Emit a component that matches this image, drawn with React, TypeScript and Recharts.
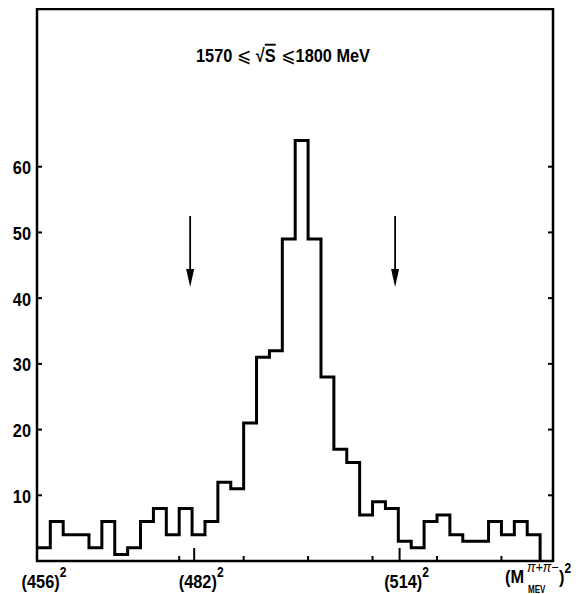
import React from 'react';
import { ComposedChart, Line, XAxis, YAxis, ReferenceArea, ReferenceLine, Customized } from 'recharts';

// ---- data ----
const BIN_START = 208000; // MeV^2
const BIN_WIDTH = 2000; // MeV^2
const COUNTS = [2, 6, 4, 4, 2, 6, 1, 2, 6, 8, 4, 8, 4, 6, 12, 11, 21, 31, 32, 49, 64, 49, 28, 17, 15, 7, 9, 8, 3, 2, 6, 7, 4, 3, 3, 6, 4, 6, 4];
const X_DOMAIN = [207936, 288000];
const Y_DOMAIN = [0, 84];
const Y_TICKS = [10, 20, 30, 40, 50, 60];
const X_MAJOR_VALUES = [207936, 232324, 264196];
const X_MAJOR_LABELS = ['456', '482', '514'];
const X_MINOR_VALUES = [230000, 240000, 250000, 260000, 270000, 280000];
const ARROW_X = [231700, 263500];
const ARROW_Y = [52.5, 41.7];
const TITLE_PARTS = ['1570 ', '\u2A7D', ' \u221A', 'S', ' \u2A7D', '1800 MeV'];

const histData = [
  ...COUNTS.map((c, i) => ({ x: BIN_START + i * BIN_WIDTH, y: c })),
  { x: BIN_START + COUNTS.length * BIN_WIDTH, y: 0 },
];
const xTicks = [...X_MAJOR_VALUES, ...X_MINOR_VALUES].sort((a, b) => a - b);

const FONT: React.CSSProperties = {
  fontFamily: '"Liberation Sans", Arial, sans-serif',
  fontWeight: 'bold',
  fontSize: 19,
};
const SX = 0.86;

const NText = (props: any) => {
  const { x, y, anchor = 'start', style, sx = SX, children } = props;
  return (
    <text
      transform={`translate(${x},${y}) scale(${sx},1)`}
      x={0}
      y={0}
      textAnchor={anchor}
      fill="#000"
      style={{ ...FONT, ...style }}
    >
      {children}
    </text>
  );
};

const LeftTick = (props: any) => {
  const { x, y, payload } = props;
  return (
    <g>
      <line x1={x} y1={y} x2={x + 5} y2={y} stroke="#000" strokeWidth={2} />
      <NText x={x - 6} y={y + 7.5} anchor="end">{payload.value}</NText>
    </g>
  );
};

const RightTick = (props: any) => {
  const { x, y } = props;
  return <line x1={x - 5} y1={y} x2={x} y2={y} stroke="#000" strokeWidth={2} />;
};

const BottomTick = (props: any) => {
  const { x, y, payload } = props;
  const idx = X_MAJOR_VALUES.indexOf(payload.value);
  const major = idx >= 0;
  return (
    <g>
      <line x1={x} y1={y} x2={x} y2={y - (major ? 13 : 5)} stroke="#000" strokeWidth={2} />
      {major && (
        <NText x={x + 7} y={y + 27} anchor="middle">
          ({X_MAJOR_LABELS[idx]})
          <tspan dy={-11} style={{ fontSize: 14 }}>2</tspan>
        </NText>
      )}
    </g>
  );
};

const Arrow = (p: any) => {
  const { x1, y1, x2, y2 } = p;
  return (
    <g>
      <line x1={x1} y1={y1} x2={x2} y2={y2 - 14} stroke="#000" strokeWidth={1.8} />
      <polygon points={`${x2 - 4},${y2 - 18} ${x2 + 4},${y2 - 18} ${x2},${y2}`} fill="#000" />
    </g>
  );
};

const Texts = () => (
  <g>
    <NText x={275} y={54} anchor="middle">
      {TITLE_PARTS[0]}
      <tspan style={{ fontFamily: '"DejaVu Sans", sans-serif', fontWeight: 'normal', fontSize: 20 }}>{TITLE_PARTS[1]}</tspan>
      <tspan>{TITLE_PARTS[2]}</tspan>
      <tspan style={{ textDecoration: 'overline' }}>{TITLE_PARTS[3]}</tspan>
      <tspan style={{ fontFamily: '"DejaVu Sans", sans-serif', fontWeight: 'normal', fontSize: 20 }}>{TITLE_PARTS[4]}</tspan>
      <tspan>{TITLE_PARTS[5]}</tspan>
    </NText>
    <NText x={497} y={575}>(M</NText>
    <NText x={519} y={564} sx={0.9} style={{ fontSize: 14, fontStyle: 'italic', fontWeight: 'normal' }}>
      {'\u03C0+\u03C0\u2212'}
    </NText>
    <NText x={520} y={585} sx={0.8} style={{ fontSize: 10 }}>MEV</NText>
    <NText x={551} y={575}>
      )<tspan dy={-10} style={{ fontSize: 14 }}>2</tspan>
    </NText>
  </g>
);

export default function App() {
  return (
    <ComposedChart
      width={573}
      height={586}
      data={histData}
      margin={{ top: 1, right: 0, bottom: 0, left: 0 }}
    >
      <XAxis
        dataKey="x"
        type="number"
        domain={X_DOMAIN}
        ticks={xTicks}
        interval={0}
        axisLine={false}
        tickLine={false}
        tickSize={0}
        tickMargin={0}
        height={33}
        tick={<BottomTick />}
        allowDataOverflow
      />
      <YAxis
        yAxisId="l"
        domain={Y_DOMAIN}
        ticks={Y_TICKS}
        axisLine={false}
        tickLine={false}
        tickSize={0}
        tickMargin={0}
        width={29}
        tick={<LeftTick />}
        allowDataOverflow
      />
      <YAxis
        yAxisId="r"
        orientation="right"
        domain={Y_DOMAIN}
        ticks={Y_TICKS}
        axisLine={false}
        tickLine={false}
        tickSize={0}
        tickMargin={0}
        width={28}
        tick={<RightTick />}
        allowDataOverflow
      />
      <ReferenceArea
        yAxisId="l"
        x1={X_DOMAIN[0]}
        x2={X_DOMAIN[1]}
        y1={Y_DOMAIN[0]}
        y2={Y_DOMAIN[1]}
        fill="none"
        fillOpacity={0}
        stroke="#000"
        strokeWidth={2.5}
      />
      {ARROW_X.map((ax) => (
        <ReferenceLine
          key={ax}
          yAxisId="l"
          segment={[{ x: ax, y: ARROW_Y[0] }, { x: ax, y: ARROW_Y[1] }]}
          shape={Arrow}
        />
      ))}
      <Line
        yAxisId="l"
        dataKey="y"
        type="stepAfter"
        stroke="#000"
        strokeWidth={3}
        strokeLinejoin="miter"
        dot={false}
        activeDot={false}
        isAnimationActive={false}
      />
      <Customized component={Texts} />
    </ComposedChart>
  );
}
